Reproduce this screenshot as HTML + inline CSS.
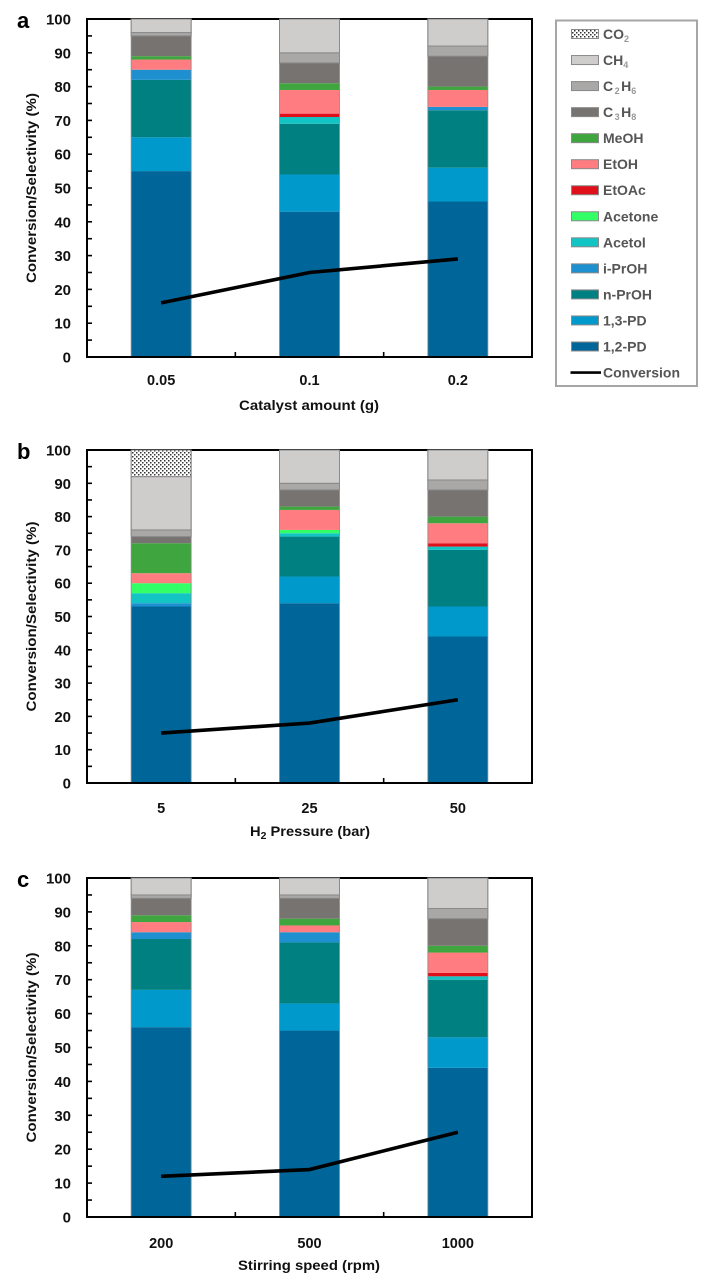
<!DOCTYPE html>
<html lang="en">
<head>
<meta charset="utf-8">
<title>Conversion and selectivity charts</title>
<style>
html,body{margin:0;padding:0;background:#fff;}
svg{display:block;}
text{font-family:"Liberation Sans",sans-serif;font-weight:bold;}
</style>
</head>
<body>
<svg id="figure" xmlns="http://www.w3.org/2000/svg" width="709" height="1281" viewBox="0 0 709 1281">
  <defs>
    <pattern id="dots" patternUnits="userSpaceOnUse" width="4" height="4">
      <rect width="4" height="4" fill="#fff"/>
      <rect x="0" y="0" width="1.5" height="1.5" fill="#333"/>
      <rect x="2" y="2" width="1.5" height="1.5" fill="#333"/>
    </pattern>
  </defs>
  <g id="legend"></g>
</svg>
<script>
const seriesNames = ['1,2-PD','1,3-PD','n-PrOH','i-PrOH','Acetol','Acetone','EtOAc','EtOH','MeOH','C3H8','C2H6','CH4','CO2'];
const yTicks = [0,10,20,30,40,50,60,70,80,90,100];

const categoriesA = ['0.05','0.1','0.2'];
const stacksA0 = [55,10,17,3,0,0,0,3,1,6,1,4,0];
const stacksA1 = [43,11,15,0,2,0,1,7,2,6,3,10,0];
const stacksA2 = [46,10,17,1,0,0,0,5,1,9,3,8,0];
const conversionA = [16,25,29];

const categoriesB = ['5','25','50'];
const stacksB0 = [53,0,0,1,3,3,0,3,9,2,2,16,8];
const stacksB1 = [54,8,12,0,1,1,0,6,1,5,2,10,0];
const stacksB2 = [44,9,17,0,1,0,1,6,2,8,3,9,0];
const conversionB = [15,18,25];

const categoriesC = ['200','500','1000'];
const stacksC0 = [56,11,15,2,0,0,0,3,2,5,1,5,0];
const stacksC1 = [55,8,18,3,0,0,0,2,2,6,1,5,0];
const stacksC2 = [44,9,17,0,1,0,1,6,2,8,3,9,0];
const conversionC = [12,14,25];

const fills = {'1,2-PD':'#006699','1,3-PD':'#0099cc','n-PrOH':'#008080','i-PrOH':'#1e90d0','Acetol':'#12c4c4','Acetone':'#33ff66','EtOAc':'#e0101a','EtOH':'#ff7c80','MeOH':'#3fa63f','C3H8':'#777371','C2H6':'#aaa7a7','CH4':'#cfcccc','CO2':'url(#dots)'};
const outlinedSeries = ['C2H6','CH4','CO2'];
const NS = 'http://www.w3.org/2000/svg';
const svg = document.getElementById('figure');
const X0 = 87, X1 = 532;
const barW = 60;

function xCenter(i){ return X0 + (X1 - X0) * (i + 0.5) / 3; }
function make(tag, attrs, parent, txt){
  const el = document.createElementNS(NS, tag);
  for (const k in attrs) el.setAttribute(k, attrs[k]);
  if (txt !== undefined) el.textContent = txt;
  (parent || svg).appendChild(el);
  return el;
}

function drawPanel(p){
  const g = make('g', {}, svg);
  
  
  const yScale = v => p.bottom - (p.bottom - p.top) * v / 100;

  const letter = make('text', {x:17, y:p.top + 9, 'font-size':22, fill:'#000'}, g, p.id);
  
  

  const frame = make('rect', {x:X0, y:p.top, width:X1 - X0, height:p.bottom - p.top, fill:'none', stroke:'#000', 'stroke-width':2}, g);
  
  

  for (let t = 5; t < 100; t += 5) {
    const tick = make('line', {x1:X0, x2:X0 + 5, y1:yScale(t), y2:yScale(t), stroke:'#000', 'stroke-width':1.6}, g);
    
    
  }
  yTicks.forEach(t => {
    const lab = make('text', {x:71, y:yScale(t) + 5.5, 'text-anchor':'end', 'font-size':15, fill:'#111'}, g, String(t));
    
    
  });
  [1,2].forEach(i => {
    const xt = X0 + (X1 - X0) * i / 3;
    const tick = make('line', {x1:xt, x2:xt, y1:p.bottom, y2:p.bottom - 5, stroke:'#000', 'stroke-width':1.6}, g);
    
    
  });

  p.stacks.forEach((vals, i) => {
    let acc = 0;
    vals.forEach((v, s) => {
      if (v <= 0) return;
      const y1 = yScale(acc + v), y0 = yScale(acc);
      const name = seriesNames[s];
      const boxed = outlinedSeries.includes(name);
      const seg = make('rect', {x:xCenter(i) - barW / 2, y:y1, width:barW, height:y0 - y1, fill:fills[name]}, g);
      if (boxed) {
        seg.setAttribute('stroke', '#8a8a8a');
        seg.setAttribute('stroke-width', '1');
      }
      
      
      acc += v;
    });
    const edge = make('rect', {x:xCenter(i) - barW / 2, y:yScale(acc), width:barW, height:yScale(0) - yScale(acc), fill:'none', stroke:'#8a8a8a', 'stroke-width':1, 'stroke-opacity':0.8}, g);
    
    
    const xl = make('text', {x:xCenter(i), y:p.bottom + p.catDy, 'text-anchor':'middle', 'font-size':14.5, fill:'#111'}, g, p.cats[i]);
    
    
  });

  const base = make('line', {x1:X0 - 1, x2:X1 + 1, y1:p.bottom, y2:p.bottom, stroke:'#000', 'stroke-width':2}, g);
  
  

  const pts = p.conv.map((v, i) => xCenter(i) + ',' + yScale(v)).join(' ');
  const line = make('polyline', {points:pts, fill:'none', stroke:'#000', 'stroke-width':3.6}, g);
  
  

  const yt = make('text', {transform:'translate(36,' + (p.top + p.bottom) / 2 + ') rotate(-90)', 'text-anchor':'middle', 'font-size':14, fill:'#111', textLength:190, lengthAdjust:'spacingAndGlyphs'}, g, 'Conversion/Selectivity (%)');
  
  

  const xt = make('text', {x:p.titleX, y:p.bottom + 53, 'text-anchor':'middle', 'font-size':14, fill:'#111', textLength:p.titleW, lengthAdjust:'spacingAndGlyphs'}, g);
  
  
  p.title.forEach(part => {
    make('tspan', part.sub ? {'font-size':10, dy:3} : {dy:part.after ? -3 : 0}, xt, part.t);
  });
}

drawPanel({id:'a', top:19, bottom:357, catDy:28, cats:categoriesA, stacks:[stacksA0,stacksA1,stacksA2], conv:conversionA, titleX:309, titleW:140, title:[{t:'Catalyst amount (g)'}]});
drawPanel({id:'b', top:450, bottom:783, catDy:30, cats:categoriesB, stacks:[stacksB0,stacksB1,stacksB2], conv:conversionB, titleX:310, titleW:120, title:[{t:'H'},{t:'2',sub:true},{t:' Pressure (bar)',after:true}]});
drawPanel({id:'c', top:878, bottom:1217, catDy:31, cats:categoriesC, stacks:[stacksC0,stacksC1,stacksC2], conv:conversionC, titleX:309, titleW:142, title:[{t:'Stirring speed (rpm)'}]});

const legend = document.getElementById('legend');
const legendBox = make('rect', {x:556, y:20.5, width:141, height:365.5, fill:'#fff', stroke:'#a6a6a6', 'stroke-width':2}, legend);


const legendOrder = seriesNames.slice().reverse();
legendOrder.forEach((name, i) => {
  const cy = 34 + i * 26.04;
  const sw = make('rect', {x:571.5, y:cy - 4.5, width:27, height:9, fill:fills[name], stroke:'#8a8a8a', 'stroke-width':1}, legend);
  
  
  const tx = make('text', {x:603, y:cy + 5, 'font-size':14, fill:'#555'}, legend);
  
  
  const m = name.match(/^(CO|CH|C)(\d)(H?)(\d?)$/);
  if (m) {
    make('tspan', {}, tx, m[1]);
    make('tspan', {'font-size':9, dy:3, dx:m[3] ? 1.5 : 0, fill:'#999'}, tx, m[2]);
    if (m[3]) {
      make('tspan', {dy:-3, dx:1.5}, tx, m[3]);
      make('tspan', {'font-size':9, dy:3, fill:'#999'}, tx, m[4]);
    }
  } else {
    tx.textContent = name;
  }
});
const convY = 34 + 13 * 26.04;
const convKey = make('line', {x1:570.5, x2:601, y1:convY, y2:convY, stroke:'#000', 'stroke-width':2.6}, legend);


const convText = make('text', {x:603, y:convY + 5, 'font-size':14, fill:'#555'}, legend, 'Conversion');


</script>
</body>
</html>
